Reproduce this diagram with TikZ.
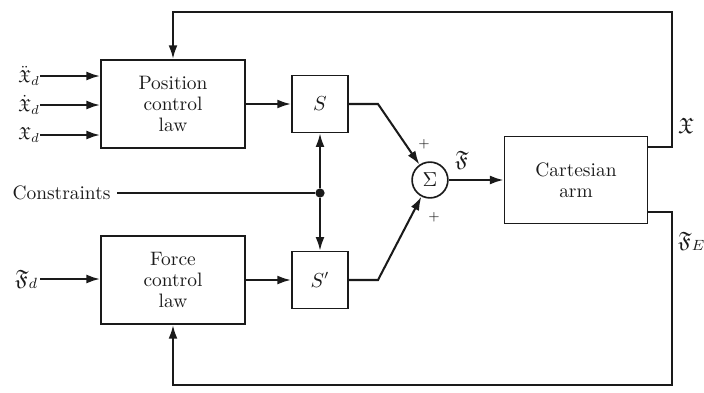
\documentclass[tikz,border=0pt]{standalone}
\usepackage{amsmath,amssymb}
\usepackage{xcolor}
\usepackage{tikz}
\usetikzlibrary{arrows.meta,calc}
\definecolor{ink}{HTML}{1A1A1A}

\begin{document}
\begin{tikzpicture}[x=0.019cm,y=-0.019cm,
  every node/.style={text=ink,font=\fontsize{10.5}{11.5}\selectfont},
  blk/.style={draw=ink,line width=0.9pt,align=center,inner sep=0pt},
  law/.style={blk,minimum width=2.74cm,minimum height=1.68cm},
  sel/.style={blk,minimum width=1.07cm,minimum height=1.08cm},
  sig/.style={draw=ink,line width=0.9pt,circle,minimum size=0.68cm,inner sep=0pt},
  jdot/.style={fill=ink,circle,minimum size=5pt,inner sep=0pt},
  sym/.style={font=\large,inner sep=1pt},
  insym/.style={font=\fontsize{9.5}{10}\selectfont,inner sep=0pt},
  sgn/.style={font=\scriptsize,inner sep=0pt},
  wire/.style={ink,line width=1.1pt},
  flow/.style={wire,-{Latex[length=2.6mm,width=1.7mm]}}]
  \useasboundingbox (0,0) rectangle (704,392);
  \node[law] (pos) at (173,104) {Position\\control\\law};
  \node[law] (force) at (173,280) {Force\\control\\law};
  \node[sel] (s) at (320,104) {$S$};
  \node[sel] (sp) at (320,280) {$S'$};
  \node[sig] (sum) at (430,180) {$\Sigma$};
  \node[law,minimum width=2.72cm,minimum height=1.65cm] (arm) at (576,180) {Cartesian\\arm};
  \node[jdot] (junc) at (320,193) {};
  \node[anchor=east] (cons) at (117,193) {Constraints};
  \node[sym,anchor=east] (fd) at (40,279) {$\mathfrak F_d$};
  \node[sym] (f) at (462,160) {$\mathfrak F$};
  \node[sgn] (p1) at (424,144) {$+$};
  \node[sgn] (p2) at (434,217) {$+$};
  \node[sym,anchor=west] (xl) at (676,126) {$\mathfrak X$};
  \node[sym,anchor=west] (fe) at (676,241) {$\mathfrak F_E$};
  \coordinate (xo) at (672,147);
  \coordinate (fo) at (672,212);
  \coordinate (top) at (173,12);
  \coordinate (bot) at (173,385);
  \foreach \n/\y/\t in {inxdd/76/{\ddot{\mathfrak X}_d},inxd/105/{\dot{\mathfrak X}_d},inx/135/{\mathfrak X_d}}{
    \node[insym,anchor=east] (\n) at (40,\y) {$\t$};
    \draw[flow] (\n.east) -- (\n.east -| pos.west);}
  \draw[flow] (fd.east) -- (fd.east -| force.west);
  \draw[flow] (pos) -- (s);
  \draw[flow] (force) -- (sp);
  \draw[wire] (cons.east) -- (junc);
  \draw[flow] (junc) -- (s.south);
  \draw[flow] (junc) -- (sp.north);
  \draw[flow] (s.east) -- ++(29,0) -- (sum);
  \draw[flow] (sp.east) -- ++(29,0) -- (sum);
  \draw[flow] (sum) -- (arm);
  \draw[flow] (arm.east |- xo) -- (xo) |- (top) -- (pos.north);
  \draw[flow] (arm.east |- fo) -- (fo) |- (bot) -- (force.south);
\end{tikzpicture}
\end{document}
